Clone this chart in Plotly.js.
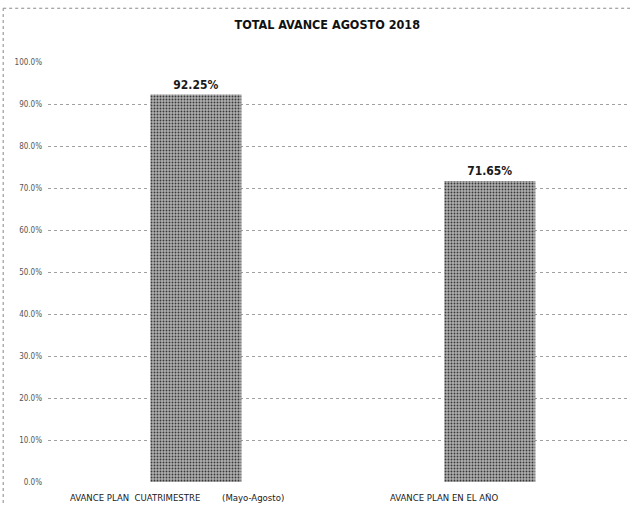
<!DOCTYPE html>
<html>
<head>
<meta charset="utf-8">
<script src="https://cdn.plot.ly/plotly-3.0.1.min.js"></script>
<style>
  html, body { margin: 0; padding: 0; background: #fff; }
  #chart { width: 633px; height: 516px; }
</style>
</head>
<body>
<div id="chart"></div>
<script>
// Progress of the plan, August 2018 (percent)
const categories = ["AVANCE PLAN  CUATRIMESTRE        (Mayo-Agosto)", "AVANCE PLAN EN EL AÑO"];
const avance = [92.25, 71.65];
const yTicks = [0, 10, 20, 30, 40, 50, 60, 70, 80, 90, 100];
const yTickText = yTicks.map(v => v.toFixed(1) + "%");

const narrow = "DejaVu Sans Condensed, Liberation Sans Narrow, Arial Narrow, sans-serif";

const trace = {
  type: "bar",
  x: categories,
  y: avance,
  width: 0.31,
  marker: {
    color: "#9a9a9a",
    line: { width: 0 },
    pattern: { shape: ".", fgcolor: "#3a3a3a", bgcolor: "#b0b0b0", size: 3, solidity: 0.32 }
  },
  text: avance.map(v => v.toFixed(2) + "%"),
  textposition: "outside",
  cliponaxis: false,
  textfont: { family: narrow, size: 12, color: "#1a1a1a", weight: "bold" },
  hoverinfo: "skip"
};

// category labels start a good way left of each bar centre
const labelShift = [-128, -102];
const annotations = categories.map((c, i) => ({
  x: c, xref: "x", y: 0, yref: "y",
  yshift: -15, xshift: labelShift[i], xanchor: "left",
  text: c, showarrow: false,
  font: { family: narrow, size: 9.5, color: "#1a1a1a" }
}));

const layout = {
  width: 633,
  height: 516,
  margin: { l: 48, r: 3, t: 62, b: 34 },
  paper_bgcolor: "#ffffff",
  plot_bgcolor: "#ffffff",
  showlegend: false,
  title: {
    text: "TOTAL AVANCE AGOSTO 2018",
    x: 0.517, xanchor: "center",
    y: 0.953, yanchor: "middle",
    font: { family: narrow, size: 12.5, color: "#111", weight: "bold" }
  },
  xaxis: {
    type: "category",
    range: [-0.503, 1.477],
    showticklabels: false,
    showgrid: false,
    zeroline: false,
    showline: false,
    ticks: ""
  },
  yaxis: {
    range: [0, 100],
    tickvals: yTicks,
    ticktext: yTickText,
    tickfont: { family: narrow, size: 8, color: "#555" },
    showgrid: true,
    gridcolor: "#a0a0a0",
    griddash: "dot",
    gridwidth: 1,
    zeroline: false,
    showline: false,
    ticks: "",
    ticklabelstandoff: 5
  },
  shapes: [
    { type: "line", xref: "paper", yref: "paper", x0: -0.077, x1: 1.0, y0: 1.128, y1: 1.128,
      line: { color: "#888", width: 1, dash: "dot" } },
    { type: "line", xref: "paper", yref: "paper", x0: -0.077, x1: -0.077, y0: -0.05, y1: 1.128,
      line: { color: "#888", width: 1, dash: "dot" } }
  ],
  annotations: annotations
};

Plotly.newPlot("chart", [trace], layout, { displayModeBar: false, staticPlot: true });
</script>
</body>
</html>
